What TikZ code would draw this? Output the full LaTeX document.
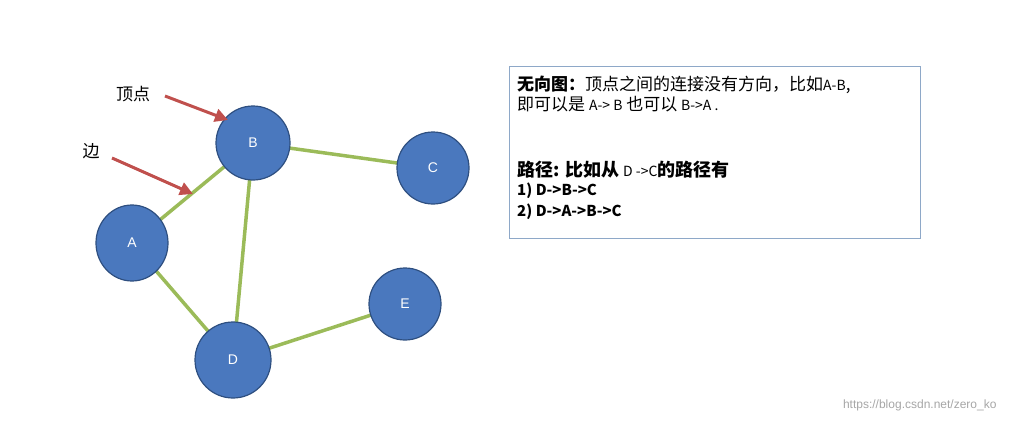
\documentclass[tikz,border=0pt]{standalone}
\usepackage{fontspec}
\setmainfont{Liberation Sans}
\newfontfamily\cjk{Noto Sans CJK SC}
\usetikzlibrary{shapes.geometric,arrows.meta}
\definecolor{nodefill}{HTML}{4A78BE}
\definecolor{nodeedge}{HTML}{2E4F80}
\definecolor{edgegreen}{HTML}{9BBB59}
\definecolor{arrowred}{HTML}{C0504D}
\definecolor{boxedge}{HTML}{8EA8C8}
\tikzset{
  vert/.style={ellipse,draw=nodeedge,line width=1.2pt,fill=nodefill,text=white,font=\fontsize{14}{14}\selectfont},
  link/.style={draw=edgegreen,line width=3.5pt},
  pointer/.style={draw=arrowred,line width=3pt,-{Triangle[length=13pt,width=13pt]}},
  lbl/.style={font=\cjk\fontsize{17}{17}\selectfont}
}
\begin{document}
\begin{tikzpicture}[x=1pt,y=-1pt]
\useasboundingbox (0,0) rectangle (1009,423);
\coordinate (A) at (132,243);
\coordinate (B) at (253,143);
\coordinate (C) at (433,168);
\coordinate (D) at (233,360);
\coordinate (E) at (405,304);
\draw[link] (A) -- (B);
\draw[link] (B) -- (C);
\draw[link] (B) -- (D);
\draw[link] (A) -- (D);
\draw[link] (D) -- (E);
\node[vert,minimum width=72pt,minimum height=76pt] (nA) at (A) {A};
\node[vert,minimum width=74pt,minimum height=74pt] (nB) at (B) {B};
\node[vert,minimum width=72pt,minimum height=72pt] (nC) at (C) {C};
\node[vert,minimum width=76pt,minimum height=76pt] (nD) at (D) {D};
\node[vert,minimum width=72pt,minimum height=72pt] (nE) at (E) {E};
\node[lbl] (vl) at (133,94) {顶点};
\node[lbl] (el) at (91,151) {边};
\coordinate (v1) at (165,96);
\coordinate (v2) at (228,120);
\coordinate (e1) at (112,158);
\coordinate (e2) at (193,194);
\draw[pointer] (v1) -- (v2);
\draw[pointer] (e1) -- (e2);
\node[draw=boxedge,line width=1.2pt,minimum width=411pt,minimum height=172pt,anchor=north west] (box) at (509,66) {};
\node[anchor=west,inner sep=0] (t1) at (517,85) {\cjk\fontsize{17}{17}\selectfont\textbf{无向图：}顶点之间的连接没有方向，比如{\fontsize{14}{14}\selectfont A-B},};
\node[anchor=west,inner sep=0] (t2) at (517,104) {\cjk\fontsize{17}{17}\selectfont 即可以是 {\fontsize{14}{14}\selectfont A-> B} 也可以 {\fontsize{14}{14}\selectfont B->A .}};
\node[anchor=west,inner sep=0] (t3) at (517,170) {\cjk\bfseries\fontsize{18}{18}\selectfont 路径: 比如从 {\mdseries\fontsize{14}{14}\selectfont D ->C}的路径有};
\node[anchor=west,inner sep=0] (t4) at (517,191) {\cjk\bfseries\fontsize{15}{15}\selectfont 1) D->B->C};
\node[anchor=west,inner sep=0] (t5) at (517,212) {\cjk\bfseries\fontsize{15}{15}\selectfont 2) D->A->B->C};
\node[anchor=east,text=black!35,font=\fontsize{12}{12}\selectfont] (wm) at (1000,405) {https://blog.csdn.net/zero\_ko};
\end{tikzpicture}
\end{document}
